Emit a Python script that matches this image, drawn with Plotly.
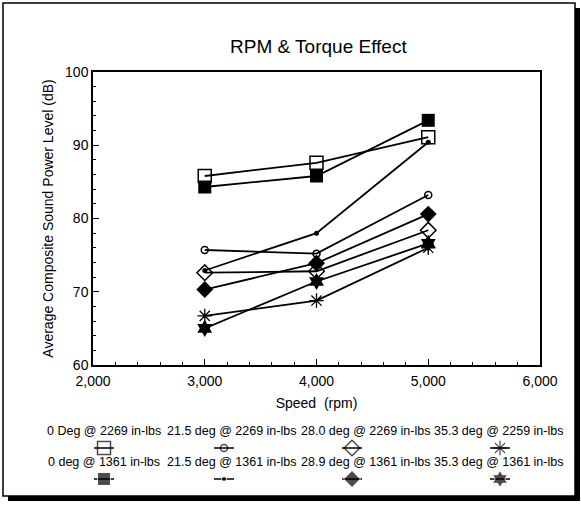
import plotly.graph_objects as go

# ---- data ----
speeds = [3000, 4000, 5000]
deg0_2269 = [85.8, 87.6, 91.1]
deg215_2269 = [75.7, 75.2, 83.2]
deg280_2269 = [72.6, 72.8, 78.4]
deg353_2259 = [66.7, 68.8, 76.0]
deg0_1361 = [84.3, 85.8, 93.4]
deg215_1361 = [72.9, 78.0, 90.4]
deg289_1361 = [70.3, 73.9, 80.6]
deg353_1361 = [65.0, 71.4, 76.6]

labels_row1 = ["0 Deg @ 2269 in-lbs", "21.5 deg @ 2269 in-lbs",
               "28.0 deg @ 2269 in-lbs", "35.3 deg @ 2259 in-lbs"]
labels_row2 = ["0 deg @ 1361 in-lbs", "21.5 deg @ 1361 in-lbs",
               "28.9 deg @ 1361 in-lbs", "35.3 deg @ 1361 in-lbs"]

W, H = 581, 506
FONT = "Liberation Sans, Arial, sans-serif"

# plot area in pixels
PL, PR, PT, PB = 93, 540, 72, 365

series = [
    (deg0_2269, dict(symbol="square-open", size=13, color="black", line=dict(width=1.5))),
    (deg215_2269, dict(symbol="circle-open", size=7, color="black", line=dict(width=1.5))),
    (deg280_2269, dict(symbol="diamond-open", size=12, color="black", line=dict(width=1.5))),
    (deg353_2259, dict(symbol="asterisk-open", size=12, color="black", line=dict(width=1.3))),
    (deg0_1361, dict(symbol="square", size=13, color="black")),
    (deg215_1361, dict(symbol="circle", size=5, color="black")),
    (deg289_1361, dict(symbol="diamond", size=13, color="black")),
    (deg353_1361, dict(symbol="hexagram", size=13, color="black")),
]

fig = go.Figure()
for vals, mk in series:
    fig.add_trace(go.Scatter(x=speeds, y=vals, mode="lines+markers",
                             line=dict(color="black", width=1.8),
                             marker=dict(mk), showlegend=False,
                             xaxis="x", yaxis="y"))

# ---- custom legend: text above, sample below ----
text_x = [104, 231, 365, 498]    # label centres (pixels)
mark_x = [104, 224, 352, 500]    # sample centres (pixels)
row_text_y = [431, 462]
row_mark_y = [448, 479]
for r, labels in enumerate([labels_row1, labels_row2]):
    for c, lab in enumerate(labels):
        fig.add_annotation(x=text_x[c], y=row_text_y[r], xref="x2", yref="y2",
                           text=lab, showarrow=False,
                           font=dict(family=FONT, size=12.5, color="black"),
                           xanchor="center", yanchor="middle")
        mk = dict(series[r * 4 + c][1])
        mk["size"] = [0, mk["size"], 0]
        cx = mark_x[c]
        fig.add_trace(go.Scatter(x=[cx - 10, cx, cx + 10],
                                 y=[row_mark_y[r]] * 3, mode="lines+markers",
                                 line=dict(color="black", width=1.5),
                                 marker=mk, showlegend=False,
                                 xaxis="x2", yaxis="y2", hoverinfo="skip"))

# title
fig.add_annotation(x=318, y=46, xref="x2", yref="y2", text="RPM & Torque Effect",
                   showarrow=False, xanchor="center", yanchor="middle",
                   font=dict(family=FONT, size=19, color="black"))

# outer frame with drop shadow
fig.add_shape(type="rect", xref="paper", yref="paper",
              x0=8 / W, x1=580 / W, y0=1 - 501 / H, y1=1 - 8 / H,
              fillcolor="black", line=dict(width=0), layer="below")
fig.add_shape(type="rect", xref="paper", yref="paper",
              x0=3 / W, x1=575 / W, y0=1 - 496 / H, y1=1 - 3 / H,
              fillcolor="white", line=dict(color="black", width=1.5), layer="below")

axis_common = dict(showline=True, linecolor="black", linewidth=1.5, mirror=True,
                   showgrid=False, zeroline=False, ticks="inside", ticklen=6,
                   tickcolor="black", tickwidth=1, automargin=False,
                   tickfont=dict(family=FONT, size=14, color="black"))

fig.update_layout(
    width=W, height=H,
    margin=dict(l=0, r=0, t=0, b=0, autoexpand=False),
    paper_bgcolor="white", plot_bgcolor="rgba(0,0,0,0)",
    xaxis=dict(axis_common, domain=[PL / W, PR / W], range=[2000, 6000],
               dtick=1000, tickformat=",", ticklabelstandoff=2,
               minor=dict(ticks="inside", ticklen=3, dtick=200, tickcolor="black"),
               title=dict(text="Speed  (rpm)", standoff=11,
                          font=dict(family=FONT, size=14, color="black")),
               anchor="y"),
    yaxis=dict(axis_common, domain=[1 - PB / H, 1 - PT / H], range=[60, 100],
               dtick=10,
               minor=dict(ticks="inside", ticklen=3, dtick=2, tickcolor="black"),
               title=dict(text="Average Composite Sound Power Level (dB)", standoff=8,
                          font=dict(family=FONT, size=14, color="black")),
               anchor="x"),
    xaxis2=dict(domain=[0, 1], range=[0, W], visible=False, fixedrange=True,
                anchor="y2", automargin=False),
    yaxis2=dict(domain=[0, 1], range=[H, 0], visible=False, fixedrange=True,
                anchor="x2", automargin=False),
    showlegend=False,
)

fig.write_html("out.html",
               config={"displayModeBar": False},
               post_script="document.body.style.margin='0px';"
                           "document.body.style.overflow='hidden';")
